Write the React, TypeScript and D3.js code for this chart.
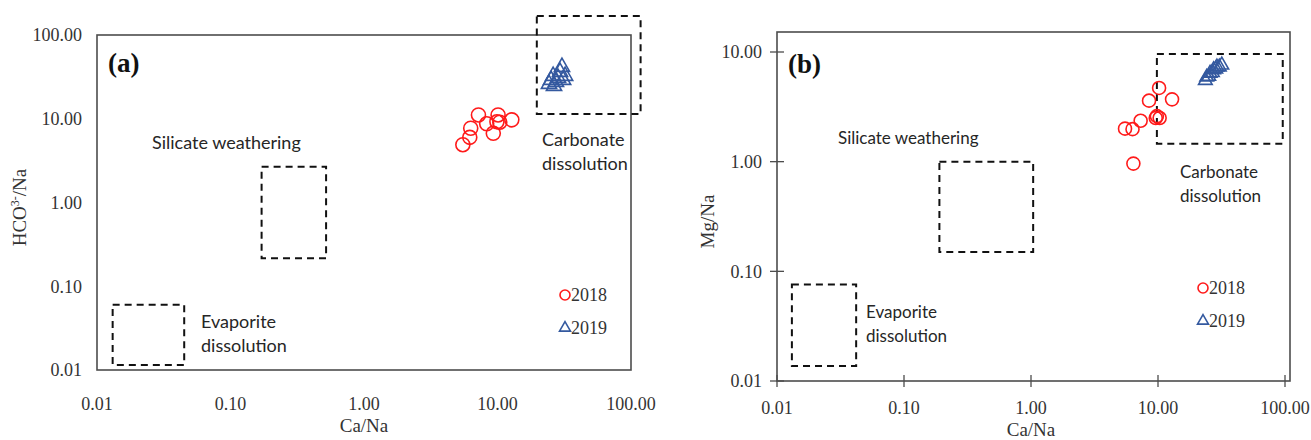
import React from "react";
import * as d3 from "d3";

const xTicks = [0.01, 0.1, 1, 10, 100];
const yTicksA = [0.01, 0.1, 1, 10, 100];
const yTicksB = [0.01, 0.1, 1, 10];
const years = ["2018", "2019"];

// (a) HCO3/Na vs Ca/Na
const caA2018 = [5.5, 6.2, 6.3, 7.2, 8.3, 9.3, 10.1, 9.9, 10.4, 12.8];
const hco3A2018 = [4.9, 6.0, 7.7, 11.1, 8.7, 6.7, 11.1, 9.2, 9.1, 9.7];
const caA2019 = [24.3, 25.2, 26.1, 27.4, 28.4, 29.4, 30.4, 31.0, 32.1, 26.5];
const hco3A2019 = [26.0, 29.0, 32.4, 27.5, 30.7, 36.2, 41.5, 29.0, 32.4, 24.6];

// (b) Mg/Na vs Ca/Na
const caB2018 = [5.5, 6.3, 7.3, 8.5, 10.2, 12.9, 9.6, 10.3, 9.8, 6.4];
const mgB2018 = [2.0, 1.98, 2.36, 3.6, 4.7, 3.7, 2.5, 2.5, 2.6, 0.96];
const caB2019 = [23.6, 24.2, 25.1, 25.7, 26.8, 27.4, 28.5, 29.1, 30.4, 31.8];
const mgB2019 = [5.5, 5.9, 6.0, 6.4, 6.5, 6.9, 7.0, 7.3, 7.3, 7.6];

// dashed process boxes: evaporite, silicate, carbonate
const boxAx0 = [0.0131, 0.171, 19.7];
const boxAx1 = [0.045, 0.52, 118];
const boxAy0 = [0.0115, 0.216, 11.4];
const boxAy1 = [0.06, 2.67, 169];
const boxBx0 = [0.0131, 0.19, 9.8];
const boxBx1 = [0.042, 1.04, 96];
const boxBy0 = [0.0137, 0.15, 1.46];
const boxBy1 = [0.076, 1.0, 9.6];

const RED = "#ff1a1a";
const BLUE = "#34599f";
const SERIF = "'Liberation Serif', 'Times New Roman', serif";
const SANS = "Lato, 'Open Sans', sans-serif";

const fmt = d3.format(".2f");

type PanelProps = {
  tag: string;
  tagY: number;
  left: number;
  right: number;
  plotTop: number;
  frameTop: number;
  frameRight: number;
  bottom: number;
  yMax: number;
  yTicks: number[];
  ticks: boolean;
  ca18: number[];
  v18: number[];
  ca19: number[];
  v19: number[];
  bx0: number[];
  bx1: number[];
  by0: number[];
  by1: number[];
  yTitle: React.ReactNode;
  yTitleX: number;
  xLabelY: number;
  xTitleY: number;
  r: number;
  triSize: number;
  labelSize: number;
  labels: { text: string[]; x: number; y: number }[];
  legendX: number;
  legendY: number;
};

const Panel = (p: PanelProps) => {
  const x = d3.scaleLog().domain([0.01, 100]).range([p.left, p.right]);
  const y = d3.scaleLog().domain([0.01, p.yMax]).range([p.bottom, p.plotTop]);
  const tri = d3.symbol(d3.symbolTriangle, p.triSize)()!;
  const triLegend = d3.symbol(d3.symbolTriangle, 52)()!;
  const midY = (p.plotTop + p.bottom) / 2 + 5;

  return (
    <g>
      <rect
        x={p.left}
        y={p.frameTop}
        width={p.frameRight - p.left}
        height={p.bottom - p.frameTop}
        fill="none"
        stroke="#4d4d4d"
        strokeWidth={1.6}
      />
      {/* y axis */}
      {p.yTicks.map((t) => (
        <g key={"y" + t}>
          {p.ticks && (
            <line x1={p.left - 7} x2={p.left + 7} y1={y(t)} y2={y(t)} stroke="#4d4d4d" strokeWidth={1.3} />
          )}
          <text
            x={p.left - 15}
            y={y(t)}
            dy="0.35em"
            textAnchor="end"
            fontFamily={SERIF}
            fontSize={18}
            fill="#333"
          >
            {fmt(t)}
          </text>
        </g>
      ))}
      {/* x axis */}
      {xTicks.map((t) => (
        <g key={"x" + t}>
          {p.ticks && (
            <line x1={x(t)} x2={x(t)} y1={p.bottom - 6} y2={p.bottom + 6} stroke="#4d4d4d" strokeWidth={1.3} />
          )}
          <text x={x(t)} y={p.xLabelY} textAnchor="middle" fontFamily={SERIF} fontSize={18} fill="#333">
            {fmt(t)}
          </text>
        </g>
      ))}
      <text
        x={(p.left + p.right) / 2}
        y={p.xTitleY}
        textAnchor="middle"
        fontFamily={SERIF}
        fontSize={19}
        fill="#333"
      >
        Ca/Na
      </text>
      <text
        transform={`translate(${p.yTitleX},${midY}) rotate(-90)`}
        textAnchor="middle"
        fontFamily={SERIF}
        fontSize={19}
        fill="#333"
      >
        {p.yTitle}
      </text>

      {/* process boxes */}
      {p.bx0.map((_, i) => (
        <rect
          key={"b" + i}
          x={x(p.bx0[i])}
          y={y(p.by1[i])}
          width={x(p.bx1[i]) - x(p.bx0[i])}
          height={y(p.by0[i]) - y(p.by1[i])}
          fill="none"
          stroke="#111"
          strokeWidth={2}
          strokeDasharray="7,5"
        />
      ))}

      {/* region labels */}
      {p.labels.map((l, i) => (
        <text key={"l" + i} x={l.x} y={l.y} fontFamily={SANS} fontSize={p.labelSize} fill="#262626">
          {l.text.map((s, j) => (
            <tspan key={j} x={l.x} dy={j === 0 ? 0 : 24}>
              {s}
            </tspan>
          ))}
        </text>
      ))}

      <text x={p.left + 11} y={p.tagY} fontFamily={SERIF} fontSize={27} fontWeight="bold" fill="#111">
        {p.tag}
      </text>

      {/* 2018 */}
      {p.ca18.map((c, i) => (
        <circle key={"c" + i} cx={x(c)} cy={y(p.v18[i])} r={p.r} fill="none" stroke={RED} strokeWidth={1.6} />
      ))}
      {/* 2019 */}
      {p.ca19.map((c, i) => (
        <path
          key={"t" + i}
          d={tri}
          transform={`translate(${x(c)},${y(p.v19[i])})`}
          fill="none"
          stroke={BLUE}
          strokeWidth={1.6}
        />
      ))}

      {/* legend */}
      <circle cx={p.legendX} cy={p.legendY} r={5} fill="none" stroke={RED} strokeWidth={1.6} />
      <text x={p.legendX + 6} y={p.legendY} dy="0.35em" fontFamily={SERIF} fontSize={18} fill="#333">
        {years[0]}
      </text>
      <path
        d={triLegend}
        transform={`translate(${p.legendX},${p.legendY + 33})`}
        fill="none"
        stroke={BLUE}
        strokeWidth={1.6}
      />
      <text x={p.legendX + 6} y={p.legendY + 33} dy="0.35em" fontFamily={SERIF} fontSize={18} fill="#333">
        {years[1]}
      </text>
    </g>
  );
};

export default function App() {
  return (
    <svg
      width={1311}
      height={440}
      style={{ position: "absolute", left: 0, top: 0, background: "#fff" }}
    >
      <Panel
        tag="(a)"
        tagY={72}
        left={97}
        right={631}
        plotTop={35}
        frameTop={35}
        frameRight={631}
        bottom={370}
        yMax={100}
        yTicks={yTicksA}
        ticks={false}
        ca18={caA2018}
        v18={hco3A2018}
        ca19={caA2019}
        v19={hco3A2019}
        bx0={boxAx0}
        bx1={boxAx1}
        by0={boxAy0}
        by1={boxAy1}
        yTitle={
          <>
            HCO<tspan dy={-7} fontSize={12}>3-</tspan>
            <tspan dy={7}>/Na</tspan>
          </>
        }
        yTitleX={26}
        xLabelY={410}
        xTitleY={432}
        r={7}
        triSize={100}
        labelSize={18}
        labels={[
          { text: ["Evaporite", "dissolution"], x: 201, y: 328 },
          { text: ["Silicate weathering"], x: 152, y: 149 },
          { text: ["Carbonate", "dissolution"], x: 542, y: 146 },
        ]}
        legendX={565}
        legendY={295}
      />
      <Panel
        tag="(b)"
        tagY={73}
        left={777}
        right={1285}
        plotTop={52}
        frameTop={32}
        frameRight={1290}
        bottom={381}
        yMax={10}
        yTicks={yTicksB}
        ticks={true}
        ca18={caB2018}
        v18={mgB2018}
        ca19={caB2019}
        v19={mgB2019}
        bx0={boxBx0}
        bx1={boxBx1}
        by0={boxBy0}
        by1={boxBy1}
        yTitle="Mg/Na"
        yTitleX={714}
        xLabelY={414}
        xTitleY={436}
        r={6.5}
        triSize={80}
        labelSize={17}
        labels={[
          { text: ["Evaporite", "dissolution"], x: 866, y: 318 },
          { text: ["Silicate weathering"], x: 838, y: 144 },
          { text: ["Carbonate", "dissolution"], x: 1180, y: 178 },
        ]}
        legendX={1203}
        legendY={288}
      />
    </svg>
  );
}
